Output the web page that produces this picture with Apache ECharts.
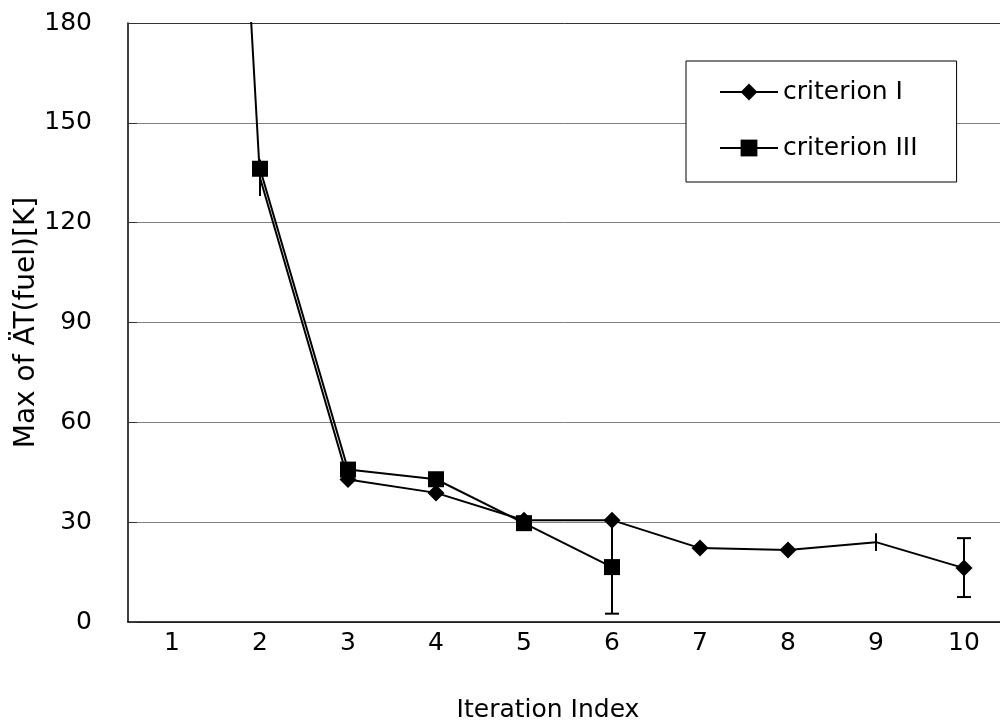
<!DOCTYPE html>
<html>
<head>
<meta charset="utf-8">
<script src="https://cdn.jsdelivr.net/npm/echarts@6/dist/echarts.min.js"></script>
<style>html,body{margin:0;padding:0;background:#fff;}#c{width:1000px;height:724px;}</style>
</head>
<body>
<div id="c"></div>
<script>
const categories = ['1','2','3','4','5','6','7','8','9','10'];
const criterionI = [600, 133.5, 42.8, 38.8, 30.6, 30.6, 22.2, 21.6, 24, 16.2];
const criterionIII = [null, 136.2, 45.8, 42.9, 29.7, 16.5, null, null, null, null];
const yTicks = [0, 30, 60, 90, 120, 150, 180];
// error bars: [categoryIndex, low, high, hasCap]
const errorsI = [[1, 128, 139, 0], [8, 21.3, 26.7, 0], [9, 7.5, 25.2, 1]];
const errorsIII = [[5, 2.5, 30.5, 1]];
const noMarkerIndexI = [1, 8];

const FONT = 'DejaVu Sans';
const FS = 25;
const chart = echarts.init(document.getElementById('c'), null, {renderer: 'canvas'});

function errRender(params, api) {
  const x = api.value(0), lo = api.value(1), hi = api.value(2), cap = api.value(3);
  const p1 = api.coord([x, lo]);
  const p2 = api.coord([x, hi]);
  const st = {stroke: '#000', lineWidth: 2};
  const children = [{type: 'line', shape: {x1: p1[0], y1: p1[1], x2: p2[0], y2: p2[1]}, style: st}];
  if (cap) {
    children.push({type: 'line', shape: {x1: p1[0] - 7, y1: p1[1], x2: p1[0] + 7, y2: p1[1]}, style: st});
    children.push({type: 'line', shape: {x1: p2[0] - 7, y1: p2[1], x2: p2[0] + 7, y2: p2[1]}, style: st});
  }
  return {type: 'group', children: children};
}

const dataI = criterionI.map((v, i) => noMarkerIndexI.includes(i) ? {value: v, symbol: 'none'} : v);

chart.setOption({
  animation: false,
  backgroundColor: '#fff',
  textStyle: {fontFamily: FONT, color: '#000'},
  grid: {left: 128, top: 23, bottom: 102, right: -8, containLabel: false, outerBoundsMode: 'none'},
  legend: {
    orient: 'vertical',
    left: 686, top: 61,
    padding: [18.5, 39, 21.5, 33],
    itemGap: 31,
    itemWidth: 58, itemHeight: 21,
    borderColor: '#000', borderWidth: 1,
    backgroundColor: '#fff',
    textStyle: {fontFamily: FONT, fontSize: FS, color: '#000'},
    data: ['criterion I', 'criterion III']
  },
  xAxis: {
    type: 'category',
    data: categories,
    boundaryGap: true,
    name: 'Iteration Index',
    nameLocation: 'middle',
    nameGap: 76,
    nameMoveOverlap: false,
    nameTextStyle: {fontFamily: FONT, fontSize: FS, color: '#000', padding: [0, 40, 0, 0]},
    axisLine: {lineStyle: {color: '#000', width: 1.5}},
    axisTick: {inside: true, length: 9, lineStyle: {color: '#666', width: 1}},
    axisLabel: {fontFamily: FONT, fontSize: FS, color: '#000', margin: 9},
    splitLine: {show: false}
  },
  yAxis: {
    type: 'value',
    min: yTicks[0], max: yTicks[yTicks.length - 1], interval: 30,
    name: 'Max of ÄT(fuel)[K]',
    nameLocation: 'middle',
    nameGap: 87,
    nameMoveOverlap: false,
    nameTextStyle: {fontFamily: FONT, fontSize: 28, color: '#000'},
    axisLine: {show: true, lineStyle: {color: '#000', width: 1.5}},
    axisTick: {show: true, inside: true, length: 9, lineStyle: {color: '#333', width: 1}},
    axisLabel: {fontFamily: FONT, fontSize: FS, color: '#000', margin: 36},
    splitLine: {show: true, lineStyle: {color: ['#808080','#808080','#808080','#808080','#808080','#808080','#333'], width: 1}}
  },
  series: [
    {
      name: 'criterion I', type: 'line', data: dataI,
      symbol: 'diamond', symbolSize: 17, showSymbol: true,
      lineStyle: {color: '#000', width: 2}, itemStyle: {color: '#000'},
      clip: true, z: 3
    },
    {
      name: 'criterion III', type: 'line', data: criterionIII,
      symbol: 'rect', symbolSize: 16,
      lineStyle: {color: '#000', width: 2}, itemStyle: {color: '#000'},
      clip: true, z: 4
    },
    {
      type: 'custom', renderItem: errRender, data: errorsI.concat(errorsIII),
      encode: {x: 0, y: [1, 2]}, z: 2, silent: true
    }
  ]
});
</script>
</body>
</html>
